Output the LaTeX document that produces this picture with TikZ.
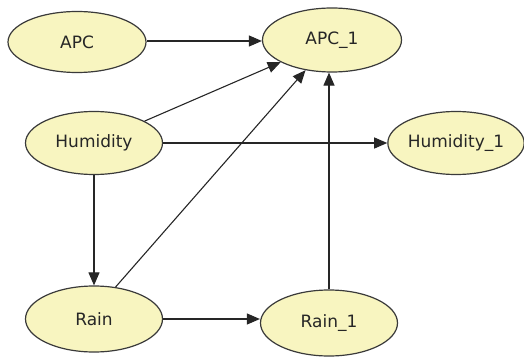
\documentclass[tikz,border=0pt]{standalone}
\usepackage{fontspec}
\setmainfont{DejaVu Sans}
\usetikzlibrary{shapes.geometric,arrows.meta}
\definecolor{nodefill}{HTML}{F8F5C0}
\definecolor{nodeline}{HTML}{3A3A3A}
\tikzset{
  var/.style={ellipse, draw=nodeline, fill=nodefill, line width=1.2pt,
    inner sep=0pt, font=\fontsize{17}{20}\selectfont, text=black!85},
  link/.style={draw=black!85, line width=1.1pt,
    -{Triangle[length=13pt,width=11pt]}}
}
\begin{document}
\begin{tikzpicture}[x=1pt,y=-1pt]
\useasboundingbox (0,0) rectangle (524,358);
\node[var, minimum width=138pt, minimum height=61pt] (apc)  at (77,42)   {APC};
\node[var, minimum width=139pt, minimum height=64pt] (apc1) at (332,40)  {APC\_1};
\node[var, minimum width=137pt, minimum height=63pt] (hum)  at (94,143)  {Humidity};
\node[var, minimum width=132pt, minimum height=63pt] (hum1) at (456,143) {Humidity\_1};
\node[var, minimum width=137pt, minimum height=66pt] (rain) at (94,319)  {Rain};
\node[var, minimum width=137pt, minimum height=66pt] (rain1) at (329,323) {Rain\_1};

\draw[link] (apc.east |- 0,41) -- (apc1.west |- 0,41);
\draw[link] (hum) -- (apc1);
\draw[link] (rain.56) -- (apc1);
\draw[link] (rain1.north) -- (apc1.south -| rain1.north);
\draw[link] (hum.east |- 0,143) -- (hum1.west |- 0,143);
\draw[link] (hum.south) -- (rain.north);
\draw[link] (rain.east |- 0,319) -- (rain1.west |- 0,319);
\end{tikzpicture}
\end{document}
